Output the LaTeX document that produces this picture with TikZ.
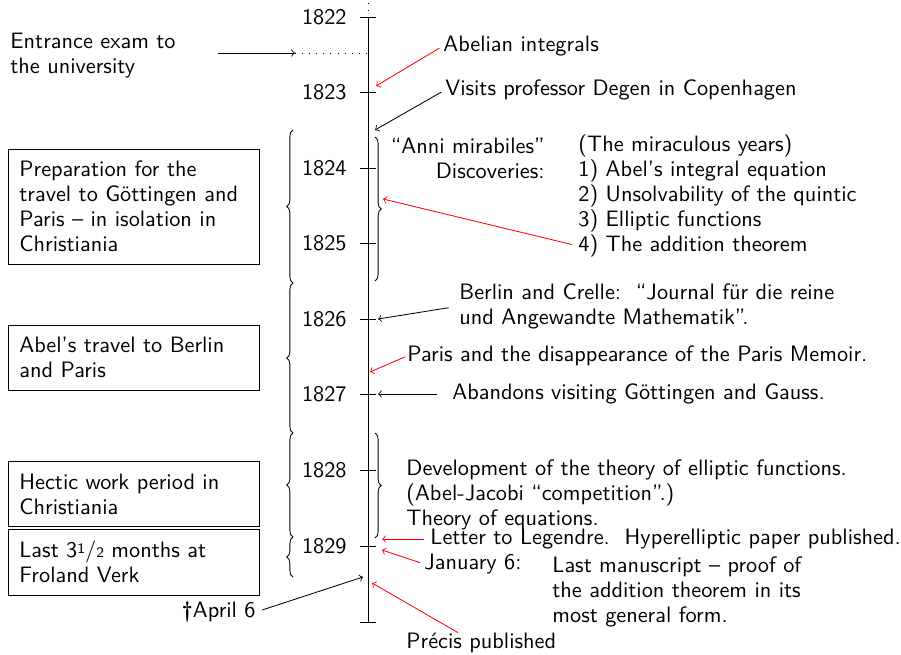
\documentclass[tikz,border=0pt]{standalone}
\usepackage{fontspec}
\usetikzlibrary{decorations.pathreplacing}
\begin{document}
\begin{tikzpicture}[>=to, x=0.48pt, y=-0.48pt, font=\sffamily\fontsize{10.7pt}{12pt}\selectfont]
\useasboundingbox (0,0) rectangle (901,655);

% Styles
\tikzstyle{period} = [draw, text width=110pt, inner xsep=5.3pt, inner ysep=5.8pt, align=left]
\tikzstyle{event} = [inner sep=0pt, align=left]
\tikzstyle{year} = [inner sep=0pt, anchor=east]
\tikzstyle{span} = [decorate, decoration={brace, amplitude=3pt}]
\tikzstyle{hit} = [->, red]

% Time axis
\coordinate (top) at (368,3);
\coordinate (t1822) at (368,17);
\coordinate (t1823) at (368,92);
\coordinate (t1824) at (368,168);
\coordinate (t1825) at (368,243);
\coordinate (t1826) at (368,319);
\coordinate (t1827) at (368,394);
\coordinate (t1828) at (368,470);
\coordinate (t1829) at (368,546);
\coordinate (t1830) at (368,622);
\draw[dash pattern=on 0.4pt off 3pt] (top) -- (t1822);
\draw (t1822) -- (t1830);
\draw (t1822) +(-8,0) -- +(8,0);
\draw (t1823) +(-8,0) -- +(8,0);
\draw (t1824) +(-8,0) -- +(8,0);
\draw (t1825) +(-8,0) -- +(8,0);
\draw (t1826) +(-8,0) -- +(8,0);
\draw (t1827) +(-8,0) -- +(8,0);
\draw (t1828) +(-8,0) -- +(8,0);
\draw (t1829) +(-8,0) -- +(8,0);
\draw (t1830) +(-8,0) -- +(8,0);

% Years
\node[year] (y1822) at (347,17) {1822};
\node[year] (y1823) at (347,92) {1823};
\node[year] (y1824) at (347,168) {1824};
\node[year] (y1825) at (347,243) {1825};
\node[year] (y1826) at (347,319) {1826};
\node[year] (y1827) at (347,394) {1827};
\node[year] (y1828) at (347,470) {1828};
\node[year] (y1829) at (347,546) {1829};

% Periods - left side
\node[period] (prep) at (134,206.5) {Preparation for the\\travel to Göttingen and\\Paris – in isolation in\\Christiania};
\node[period] (travel) at (134,357.5) {Abel’s travel to Berlin\\and Paris};
\node[period] (hectic) at (134,494) {Hectic work period in\\Christiania};
\node[period] (froland) at (134,562) {Last 3{\scriptsize\raisebox{0.6ex}{1}}/{\scriptsize 2} months at\\Froland Verk};
\draw[span] (293,283) -- (293,130);
\draw[span] (293,433) -- (293,283);
\draw[span] (293,537) -- (293,433);
\draw[span] (293,577) -- (293,537);

% Entrance exam
\node[event, anchor=north west] (exam) at (10,33) {Entrance exam to\\the university};
\coordinate (e1) at (218,53);
\coordinate (e2) at (295,53);
\coordinate (e3) at (t1822 |- e2);
\draw[->] (e1) -- (e2);
\draw[dash pattern=on 0.4pt off 3pt] (e2) -- (e3);

% Events - right side
\node[event, anchor=west] (abelian) at (443,46) {Abelian integrals};
\node[event, anchor=west] (degen) at (445,90) {Visits professor Degen in Copenhagen};
\coordinate (c1) at (376,86);
\coordinate (c2) at (375,130);
\draw[hit, shorten <=2pt] (abelian.west) -- (c1);
\draw[->, shorten <=2pt] (degen.west) -- (c2);

% Anni mirabiles
\draw[span] (375,137) -- (375,281);
\node[year] (anni) at (545,146) {“Anni mirabiles”};
\node[year] (disc) at (545,171) {Discoveries:};
\node[event, anchor=west] (d0) at (578,146) {(The miraculous years)};
\node[event, anchor=west] (d1) at (578,171) {1) Abel’s integral equation};
\node[event, anchor=west] (d2) at (578,196) {2) Unsolvability of the quintic};
\node[event, anchor=west] (d3) at (578,221) {3) Elliptic functions};
\node[event, anchor=west] (d4) at (578,246) {4) The addition theorem};
\coordinate (c3) at (383,199);
\draw[hit, shorten <=3pt] (d4.west) -- (c3);

% Berlin and Paris
\node[event, anchor=north west] (crelle) at (459,283) {Berlin and Crelle:\ \ “Journal für die reine\\und Angewandte Mathematik”.};
\node[event, anchor=west] (memoir) at (407,356) {Paris and the disappearance of the Paris Memoir.};
\node[event, anchor=west] (gauss) at (452,394) {Abandons visiting Göttingen and Gauss.};
\coordinate (c4) at (378,319);
\coordinate (c5) at (370,372);
\coordinate (c6) at (378,394);
\draw[->, shorten <=5pt] (crelle.west) -- (c4);
\draw[hit, shorten <=1pt] (memoir.west) -- (c5);
\draw[->, shorten <=7pt] (gauss.west) -- (c6);

% Last years
\draw[span] (375,433) -- (375,538);
\node[event, anchor=north west] (elliptic) at (406,459) {Development of the theory of elliptic functions.\\(Abel-Jacobi “competition”.)\\Theory of equations.};
\node[event, anchor=west] (legendre) at (430,539) {Letter to Legendre.\ \ Hyperelliptic paper published.};
\node[event, anchor=west] (january) at (424,564) {January 6:};
\node[event, anchor=north west] (lastms) at (552,556) {Last manuscript – proof of\\the addition theorem in its\\most general form.};
\node[event, anchor=west] (precis) at (406,643) {Précis published};
\node[year] (april) at (256,612) {\textbf{\textdagger}April 6};
\coordinate (c7) at (382,539);
\coordinate (c8) at (382,550);
\coordinate (c9) at (363,577);
\coordinate (c10) at (372,583);
\draw[hit, shorten <=3pt] (legendre.west) -- (c7);
\draw[hit, shorten <=2pt] (january.west) -- (c8);
\draw[->, shorten <=3pt] (april.east) -- (c9);
\draw[hit] ([xshift=25pt]precis.north west) -- (c10);

\end{tikzpicture}
\end{document}
